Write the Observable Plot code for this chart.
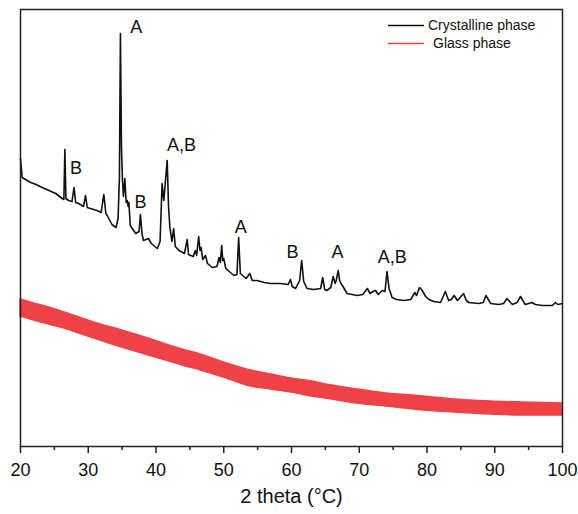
<!DOCTYPE html>
<html>
<head>
<meta charset="utf-8">
<script src="https://cdn.jsdelivr.net/npm/d3@7"></script>
<script src="https://cdn.jsdelivr.net/npm/@observablehq/plot@0.6"></script>
<style>
  html, body { margin: 0; padding: 0; background: #fff; }
  #wrap { position: relative; width: 578px; height: 514px; font-family: "Liberation Sans", Arial, sans-serif; }
  #legend { position: absolute; left: 388px; top: 16px; font-size: 14px; color: #111; }
  #legend .row { position: relative; height: 18px; white-space: nowrap; }
  #legend svg { position: absolute; left: 0; top: 8px; }
  #legend span { position: absolute; left: 40px; top: 0; line-height: 18px; }
</style>
</head>
<body>
<div id="wrap"><div id="legend"></div></div>
<script>
// Crystalline phase: 2theta (deg) and intensity (a.u.)
const crystTheta = [20.0,20.25,21.5,22.3,23.2,24.2,25.2,26.15,26.4,26.55,26.7,27.1,27.6,27.9,28.15,28.6,29.3,29.6,29.85,30.3,31.3,31.9,32.3,32.6,32.8,33.5,34.1,34.4,34.6,34.75,34.9,35.05,35.2,35.4,35.6,35.75,35.9,36.0,36.2,37.0,37.5,37.7,37.95,38.15,38.9,39.3,40.2,40.6,40.9,41.15,41.65,41.85,42.05,42.35,42.6,42.85,43.4,44.2,44.6,44.8,45.5,45.8,46.0,46.3,46.5,46.65,46.9,47.3,47.6,48.3,49.0,49.3,49.5,49.7,49.85,50.0,50.3,51.5,51.95,52.2,52.45,53.3,53.85,54.2,54.9,56.0,56.9,58.4,59.5,59.85,60.1,60.6,61.2,61.5,61.8,62.3,63.25,64.3,64.6,64.9,65.2,65.8,66.15,66.45,66.6,66.9,67.1,67.3,67.6,68.2,69.7,70.5,71.2,71.6,72.0,72.4,72.8,73.4,73.8,74.1,74.4,74.85,75.5,76.6,77.6,78.2,78.45,78.9,79.3,79.8,80.3,81.0,82.0,82.7,83.2,83.6,84.0,84.5,85.4,85.8,86.2,87.65,88.3,88.7,89.4,90.6,91.3,91.8,92.6,93.3,93.8,94.5,95.5,96.0,97.0,98.5,98.95,99.3,100.0];
const crystIntensity = [288,269,264,262,259,256,253,248,247,297,248,246,245,259,244,243,240,251,239,238,236,234,252,233,231,222,219,228,269,413,300,266,250,268,244,246,240,244,221,213,215,232,212,206,208,203,198,205,263,246,286,240,219,205,218,200,196,193,207,192,190,196,191,210,196,199,187,191,183,179,180,189,184,201,186,188,178,171,172,209,173,168,173,166,166,164,163,163,162,167,160,158,166,186,165,158,157,158,169,157,156,159,170,163,166,176,166,163,160,153,151,152,158,153,155,156,152,156,155,175,158,149,147,146,147,154,151,159,156,150,147,145,144,155,146,147,151,146,153,146,144,143,144,151,143,142,143,148,142,144,150,142,144,142,141,141,144,142,143];

// Glass phase: noisy band, upper and lower envelope (a.u.)
const glassTheta = [20,22,24.2,26.5,29.1,31.8,34.0,36.5,38.9,41.5,43.9,46.6,50.0,54.0,57.0,60.0,63.0,66.0,69.7,74.0,79.5,84.0,89.4,94.0,100];
const glassUpper = [147,143,139,134,128,122,118,113,108,102,97,92,84,76,72,68,65,61,57,53,50,47,45,44,43];
const glassLower = [130,126,122,118,112,106,101,96,91,86,81,76,69,60,57,54,50,47,43,40,36,34,32,31,31];

// Peak annotations
const peakLabels = ["A","A,B","B","B","A","B","A","A,B"];
const peakTheta = [37.1,43.76,28.2,37.7,52.5,60.15,66.8,74.86];
const peakLabelIntensity = [419,301,278,244,219,194,194,189];

const xTicks = [20,30,40,50,60,70,80,90,100];
const xMinorTicks = [25,35,45,55,65,75,85,95];
const xTitle = "2 theta (°C)";
const seriesNames = ["Crystalline phase","Glass phase"];
const seriesColors = ["#111111","#ef4146"];

const cryst = crystTheta.map((t,i) => ({t, v: crystIntensity[i]}));
const glass = glassTheta.map((t,i) => ({t, hi: glassUpper[i], lo: glassLower[i]}));
const labels = peakLabels.map((s,i) => ({s, t: peakTheta[i], v: peakLabelIntensity[i]}));

const chart = Plot.plot({
  width: 578,
  height: 514,
  marginLeft: 20,
  marginRight: 16,
  marginTop: 9,
  marginBottom: 68,
  style: {fontFamily: "'Liberation Sans', Arial, sans-serif", background: "#fff", color: "#111"},
  x: {domain: [20, 100]},
  y: {domain: [0, 437], axis: null},
  marks: [
    Plot.areaY(glass, {x: "t", y1: "lo", y2: "hi", fill: seriesColors[1], stroke: seriesColors[1], strokeWidth: 1.5, curve: "monotone-x"}),
    Plot.line(cryst, {x: "t", y: "v", stroke: seriesColors[0], strokeWidth: 1.6, strokeLinejoin: "round"}),
    Plot.text(labels, {x: "t", y: "v", text: "s", fontSize: 18, fill: "#111", textAnchor: "middle", lineAnchor: "middle"}),
    Plot.axisX({ticks: xMinorTicks, tickSize: 4, tickFormat: () => "", label: null, stroke: "#222", strokeWidth: 1.5}),
    Plot.axisX({ticks: xTicks, tickSize: 7, tickPadding: 10, fontSize: 18, label: null, stroke: "#222", strokeWidth: 1.5, fill: "#111"}),
    Plot.text([xTitle], {frameAnchor: "bottom", dy: 50, fontSize: 20, fill: "#111", lineAnchor: "middle"}),
    Plot.frame({stroke: "#222", strokeWidth: 1.5})
  ]
});

const wrap = document.getElementById("wrap");
wrap.insertBefore(chart, wrap.firstChild);
const legend = document.getElementById("legend");
seriesNames.forEach((name, i) => {
  const row = document.createElement("div");
  row.className = "row";
  const sw = d3.create("svg").attr("width", 36).attr("height", 3);
  sw.append("line").attr("x1", 0).attr("x2", 36).attr("y1", 1.5).attr("y2", 1.5)
    .attr("stroke", seriesColors[i]).attr("stroke-width", 1.6);
  const lab = document.createElement("span");
  lab.textContent = name;
  if (i === 1) lab.style.left = "45px";
  row.appendChild(sw.node());
  row.appendChild(lab);
  legend.appendChild(row);
});
</script>
</body>
</html>
